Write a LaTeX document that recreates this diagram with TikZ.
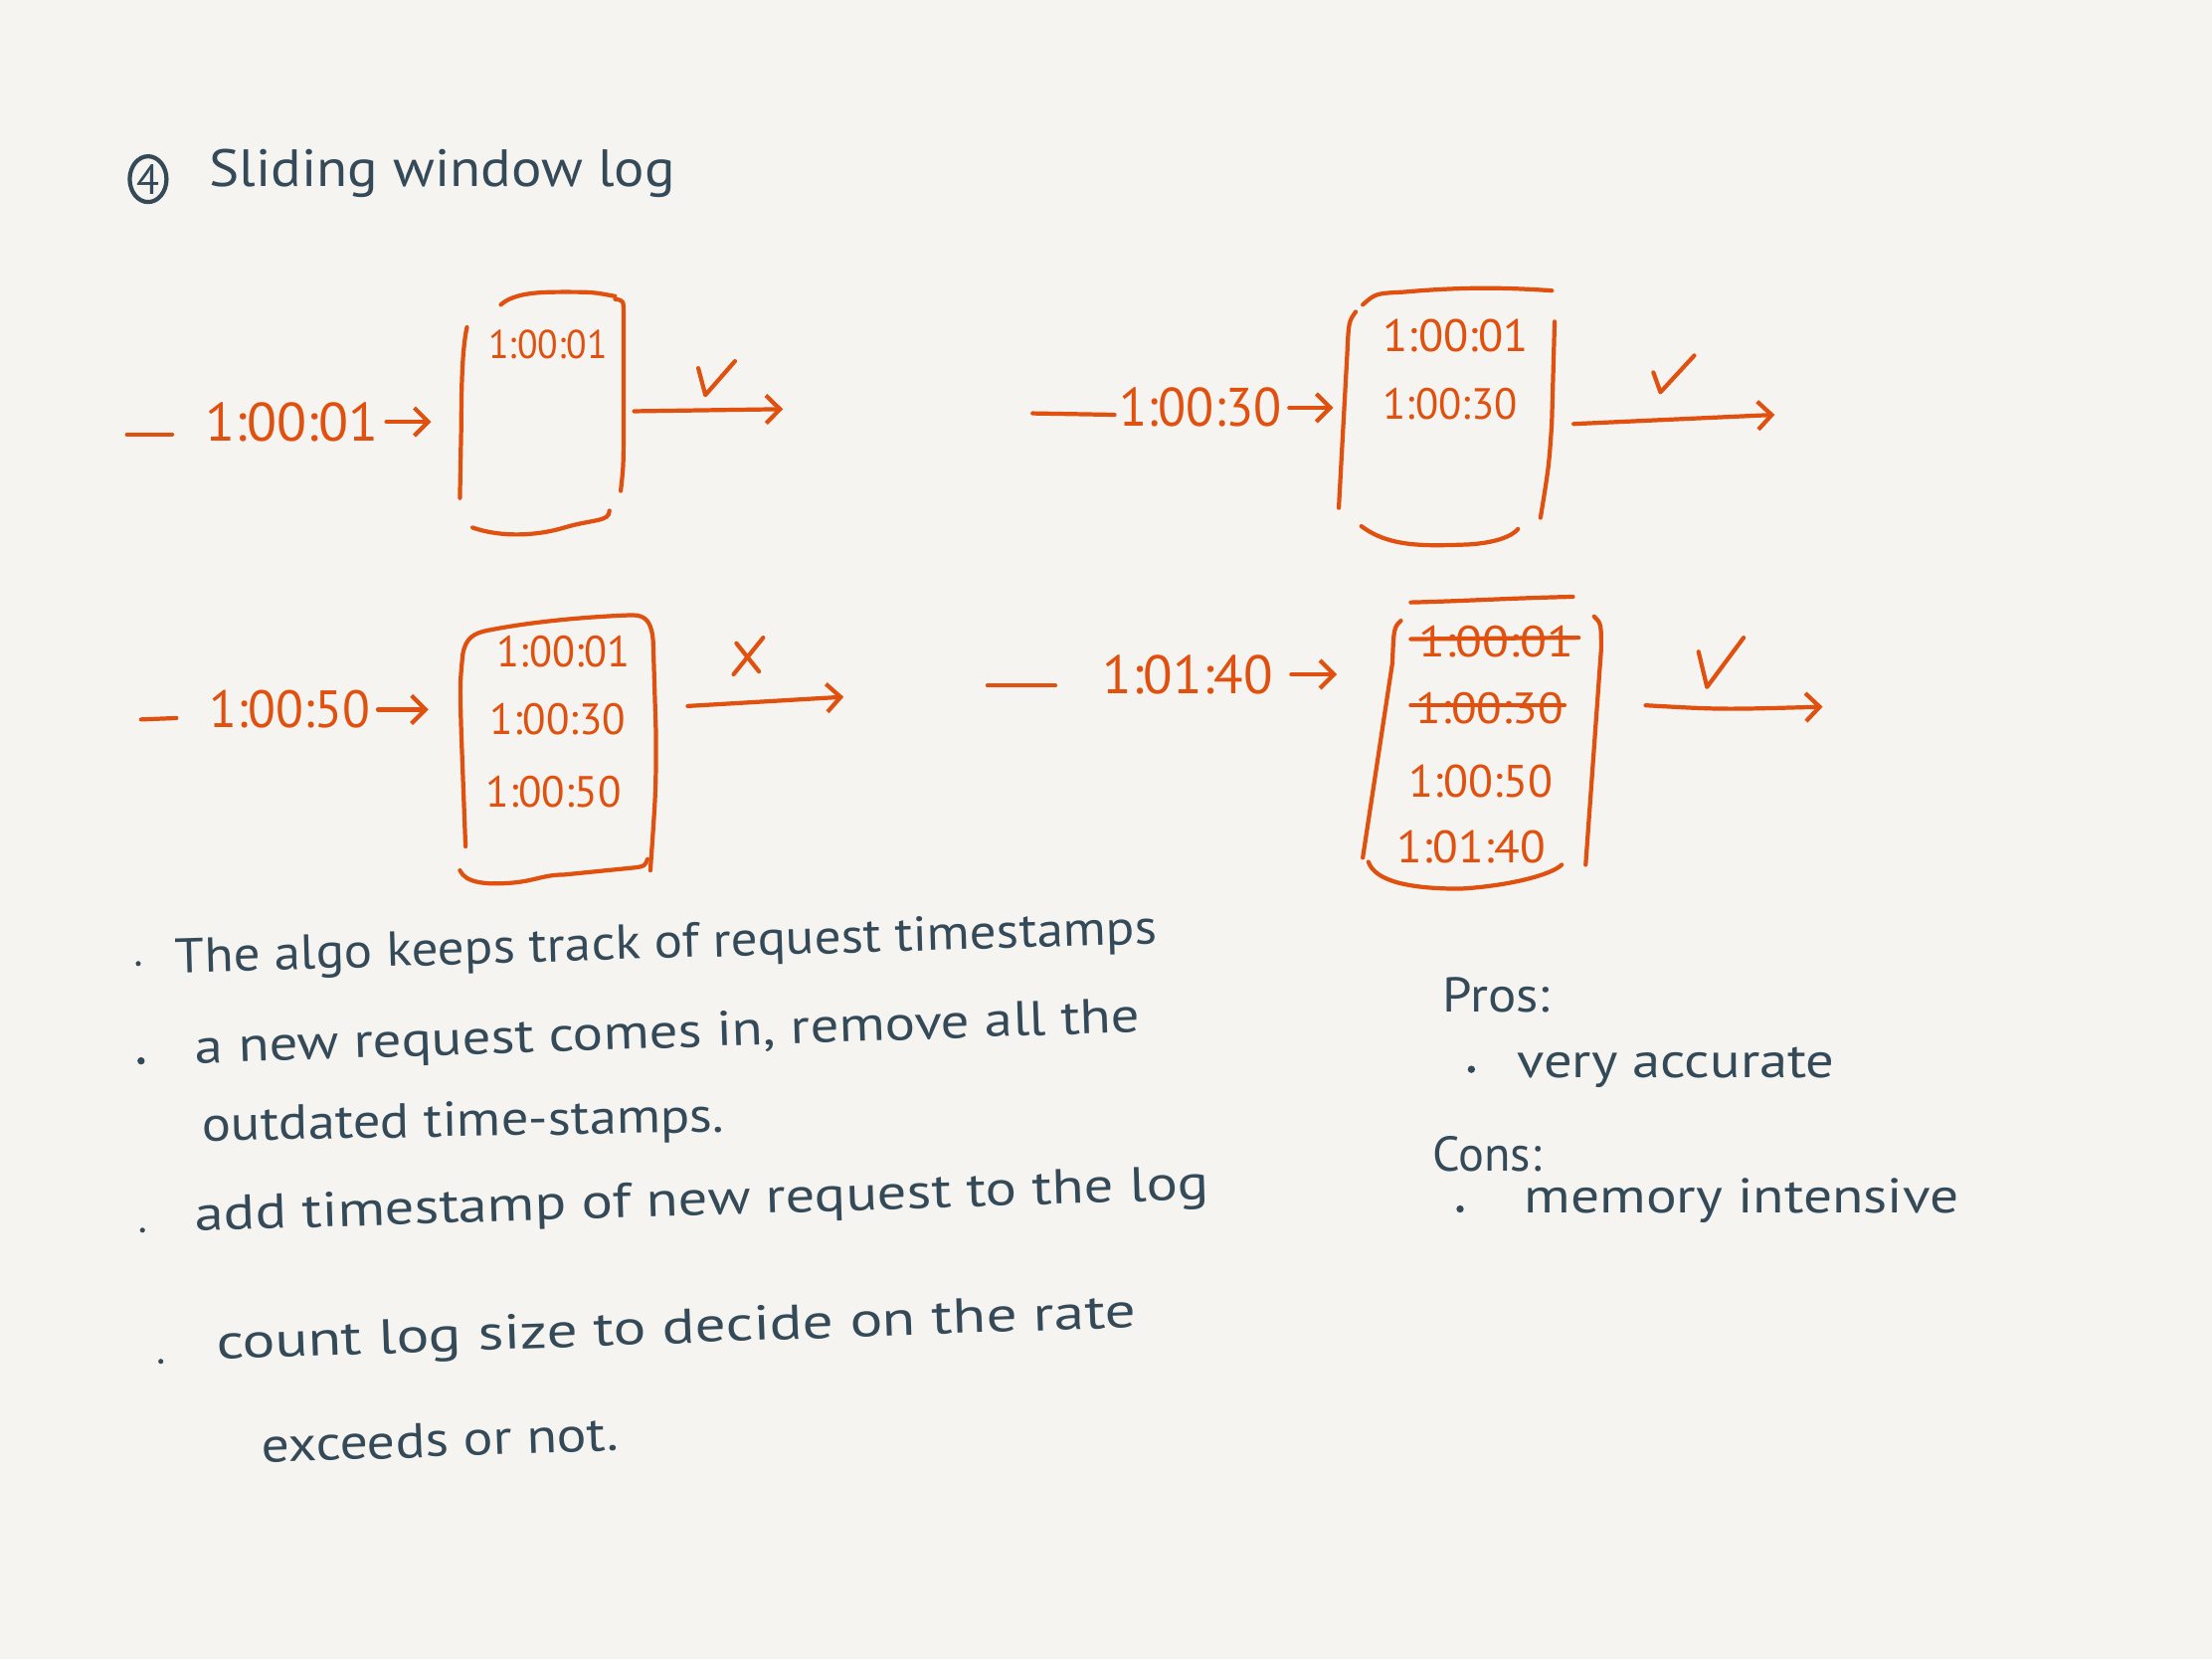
\documentclass[tikz,border=0pt]{standalone}
\usepackage{fontspec}
\setmainfont{PT Sans}
\usepackage{graphicx}
\usetikzlibrary{arrows.meta,calc,fit,shapes.geometric}
\definecolor{bg}{HTML}{F5F4F0}
\definecolor{org}{HTML}{E0500F}
\definecolor{ink}{HTML}{354A58}
\newdimen\pxu \pxu=0.014184cm
\newcommand\fitw[2]{\resizebox{#1\pxu}{\height}{#2}}
\newcommand\fs[1]{\fontsize{#1pt}{#1pt}\selectfont}
\tikzset{
  ostroke/.style={draw=org, line width=1.2pt, line cap=round, line join=round},
  dstroke/.style={draw=ink, line width=1.1pt, line cap=round, line join=round},
  oarr/.style={ostroke, -{Straight Barb[length=4pt,width=8pt,line width=1.2pt]}},
  otxt/.style={text=org, inner sep=0pt, anchor=west},
  dtxt/.style={text=ink, inner sep=0pt, anchor=west},
  boxn/.style={inner sep=0pt, draw=none},
}
\begin{document}
\begin{tikzpicture}[x=0.014184cm, y=-0.014184cm]
\fill[bg] (0,0) rectangle (1568,1176);
\useasboundingbox (0,0) rectangle (1568,1176);

% title
\node[draw=ink, ellipse, line width=1.2pt, minimum width=0.37cm, minimum height=0.46cm, inner sep=0pt, text=ink, font=\fs{12}] (num) at (105,127) {4};
\node[dtxt, font=\fs{15}] (title) at (148,123) {\fitw{330}{Sliding window log}};

% ---------- row 1 left ----------
\draw[ostroke] (90,308) -- (122,308);
\node[otxt, font=\fs{15.5}] (L1) at (145,299) {\fitw{123}{1:00:01}};
\node[boxn, fit={(326,205) (443,380)}] (box1) {};
\draw[oarr, shorten <=2pt, shorten >=8pt] (L1.east) -- (L1.east -| box1.west);
\draw[ostroke] (331,232) .. controls (328,245) and (327,270) .. (327,300) -- (326,353);
\draw[ostroke] (436,212) .. controls (442,213) .. (442,222) -- (442,300) .. controls (442,330) .. (440,348);
\draw[ostroke] (355,216) .. controls (365,207) and (385,207) .. (400,207) .. controls (420,207) .. (436,210);
\draw[ostroke] (335,374) .. controls (355,381) and (380,380) .. (400,374) .. controls (420,368) and (432,370) .. (432,362);
\node[otxt, font=\fs{11.5}] (b1a) at (346,244) {\fitw{84}{1:00:01}};
\coordinate (o1) at (555,290);
\draw[oarr] ($(box1.east)+(6,-1)$) -- (o1);
\draw[ostroke] (495,261) -- (500,280) -- (521,256);

% ---------- row 1 right ----------
\draw[ostroke] (732,293) -- (790,294);
\node[otxt, font=\fs{15.5}] (L2) at (793,289) {\fitw{115}{1:00:30}};
\node[boxn, fit={(948,203) (1102,386)}] (box2) {};
\draw[oarr, shorten <=2pt, shorten >=1pt] (L2.east) -- (L2.east -| box2.west);
\draw[ostroke] (961,221) .. controls (956,228) .. (955,250) -- (949,360);
\draw[ostroke] (1102,228) -- (1100,300) .. controls (1098,330) .. (1092,367);
\draw[ostroke] (966,216) .. controls (975,208) .. (995,207) .. controls (1040,203) and (1070,204) .. (1100,206);
\draw[ostroke] (965,373) .. controls (985,388) and (1010,387) .. (1040,386) .. controls (1060,385) and (1072,380) .. (1076,375);
\node[otxt, font=\fs{13}] (b2a) at (980,238) {\fitw{103}{1:00:01}};
\node[otxt, font=\fs{12.5}] (b2b) at (980,286) {\fitw{95}{1:00:30}};
\coordinate (o2) at (1258,294);
\draw[oarr] ($(box2.east)+(13,6)$) -- (o2);
\draw[ostroke] (1172,264) -- (1177,278) -- (1201,252);

% ---------- row 2 left ----------
\draw[ostroke] (100,510) -- (125,509);
\node[otxt, font=\fs{15}] (L3) at (148,503) {\fitw{114}{1:00:50}};
\node[boxn, fit={(324,435) (466,626)}] (box3) {};
\draw[oarr, shorten <=2pt, shorten >=8pt] (L3.east) -- (L3.east -| box3.west);
\draw[ostroke] (330,600) -- (327,520) .. controls (326,485) .. (328,464) .. controls (330,452) and (336,449) .. (345,447)
  .. controls (380,440) and (420,437) .. (448,436) .. controls (458,436) and (462,441) .. (463,455) -- (465,520) .. controls (465,560) .. (461,617);
\draw[ostroke] (326,617) .. controls (330,626) and (345,627) .. (360,626) .. controls (378,625) and (385,620) .. (400,620) -- (450,615) .. controls (457,614) .. (459,609);
\node[otxt, font=\fs{12.5}] (b3a) at (352,462) {\fitw{94}{1:00:01}};
\node[otxt, font=\fs{12.5}] (b3b) at (347,510) {\fitw{96}{1:00:30}};
\node[otxt, font=\fs{12.5}] (b3c) at (344,561) {\fitw{96}{1:00:50}};
\coordinate (o3) at (598,494);
\draw[oarr] ($(box3.east)+(21,-30)$) -- (o3);
\draw[ostroke] (522,456) -- (538,476);
\draw[ostroke] (541,452) -- (520,478);

% ---------- row 2 right ----------
\draw[ostroke] (700,486) -- (748,486);
\node[otxt, font=\fs{15.5}] (L4) at (781,478) {\fitw{121}{1:01:40}};
\node[boxn, fit={(963,420) (1137,632)}] (box4) {};
\draw[oarr, shorten <=5pt, shorten >=6pt] (L4.east) -- (L4.east -| box4.west);
\draw[ostroke] (1000,427) .. controls (1040,426) and (1070,424) .. (1115,423);
\draw[ostroke] (993,440) .. controls (988,445) .. (987,470) -- (966,608);
\draw[ostroke] (1130,437) .. controls (1135,442) .. (1135,460) -- (1124,613);
\draw[ostroke] (970,611) .. controls (975,625) and (1000,630) .. (1035,630) .. controls (1070,628) and (1100,620) .. (1107,613);
\node[otxt, font=\fs{12.5}] (b4a) at (1005,455) {\fitw{110}{1:00:01}};
\node[otxt, font=\fs{12.5}] (b4b) at (1003,502) {\fitw{105}{1:00:30}};
\node[otxt, font=\fs{13}] (b4c) at (998,554) {\fitw{102}{1:00:50}};
\node[otxt, font=\fs{13}] (b4d) at (990,600) {\fitw{105}{1:01:40}};
\draw[ostroke] ($(b4a.west)+(-5,-2)$) -- ($(b4a.east)+(3,-3)$);
\draw[ostroke] ($(b4b.west)+(-3,-2)$) -- ($(b4b.east)+(0,-2)$);
\coordinate (o4) at (1292,501);
\draw[oarr] ($(box4.east)+(29,-26)$) .. controls (1220,503) .. (o4);
\draw[ostroke] (1204,462) -- (1210,487) -- (1236,452);

% ---------- notes ----------
\fill[ink] (98,683) circle (1.8);
\node[dtxt, font=\fs{14}, rotate=1.7] (t1) at (124,681) {\fitw{696}{The algo keeps track of request timestamps}};
\fill[ink] (100,752) circle (2.6);
\node[dtxt, font=\fs{14}, rotate=1.9] (t2) at (138,745) {\fitw{670}{a new request comes in, remove all the}};
\node[dtxt, font=\fs{14}, rotate=1] (t3) at (143,800) {\fitw{370}{outdated time-stamps.}};
\fill[ink] (101,872) circle (1.8);
\node[dtxt, font=\fs{14}, rotate=1.8] (t4) at (138,864) {\fitw{719}{add timestamp of new request to the log}};
\fill[ink] (114,965) circle (1.8);
\node[dtxt, font=\fs{14}, rotate=2] (t5) at (153,955) {\fitw{652}{count log size to decide on the rate}};
\node[dtxt, font=\fs{14}, rotate=2] (t6) at (185,1025) {\fitw{253}{exceeds or not.}};

\node[dtxt, font=\fs{14}] (pros) at (1022,705) {\fitw{76}{Pros:}};
\fill[ink] (1043,758) circle (2.6);
\node[dtxt, font=\fs{14}] (p1) at (1075,757) {\fitw{225}{very accurate}};
\node[dtxt, font=\fs{14}] (cons) at (1015,818) {\fitw{77}{Cons:}};
\fill[ink] (1035,857) circle (2.6);
\node[dtxt, font=\fs{14}] (c1) at (1080,851) {\fitw{308}{memory intensive}};
\end{tikzpicture}
\end{document}
